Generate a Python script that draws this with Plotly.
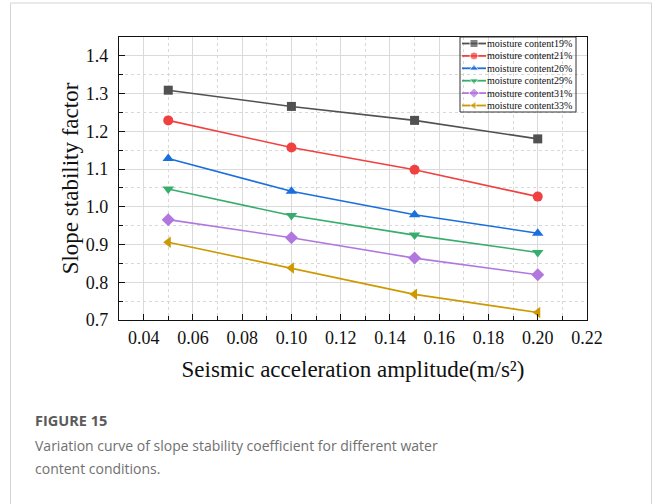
import plotly.graph_objects as go

# ---------------- data ----------------
amplitude = [0.05, 0.10, 0.15, 0.20]
series_names = ["moisture content19%", "moisture content21%", "moisture content26%",
                "moisture content29%", "moisture content31%", "moisture content33%"]
mc19 = [1.309, 1.266, 1.229, 1.180]
mc21 = [1.229, 1.157, 1.098, 1.027]
mc26 = [1.128, 1.041, 0.979, 0.930]
mc29 = [1.047, 0.977, 0.925, 0.879]
mc31 = [0.966, 0.918, 0.864, 0.820]
mc33 = [0.906, 0.838, 0.768, 0.720]
series_values = [mc19, mc21, mc26, mc29, mc31, mc33]

colors = ["#515151", "#F14040", "#1A6FDF", "#37AD6B", "#B177DE", "#CC9900"]
symbols = ["square", "circle", "triangle-up", "triangle-down", "diamond", "triangle-left"]
msizes = [9, 10, 10, 10, 10, 10]

W, H = 654, 504
L, R, T, B = 119, 587, 37, 320   # plot area in pixels


def px(x):
    return (x - L) / (R - L)


def py(y):
    return (B - y) / (B - T)


SERIF = "Liberation Serif"
fig = go.Figure()

for name, vals, c, s, ms in zip(series_names, series_values, colors, symbols, msizes):
    fig.add_trace(go.Scatter(
        x=amplitude, y=vals, name=name, mode="lines+markers",
        line=dict(color=c, width=1.6),
        marker=dict(symbol=s, size=ms, color=c),
        showlegend=False, cliponaxis=False,
    ))

# ---------- custom compact legend (drawn on an auxiliary 0..1 axis) ----------
leg_x0, leg_x1 = 460, 576
leg_y0, leg_y1 = 37, 112
row_h = 12.4
first_row = 43.5
for i, (name, c, s) in enumerate(zip(series_names, colors, symbols)):
    yy = py(first_row + i * row_h)
    fig.add_trace(go.Scatter(
        x=[px(462), px(474), px(486)], y=[yy, yy, yy],
        mode="lines+markers", xaxis="x2", yaxis="y2",
        line=dict(color=c, width=1.8),
        marker=dict(symbol=s, size=[0, 8, 0], color=c),
        showlegend=False, hoverinfo="skip",
    ))
    fig.add_annotation(
        x=px(485), y=yy, xref="paper", yref="paper", text=name,
        showarrow=False, xanchor="left", yanchor="middle",
        font=dict(family=SERIF, size=10, color="#111111"),
    )

shapes = [
    dict(type="rect", xref="paper", yref="paper",
         x0=px(leg_x0), x1=px(leg_x1), y0=py(leg_y1), y1=py(leg_y0),
         line=dict(color="#333333", width=1), fillcolor="rgba(255,255,255,0)", layer="above"),
    # card border
    dict(type="line", xref="paper", yref="paper", x0=px(10.5), x1=px(10.5), y0=py(3), y1=py(520),
         line=dict(color="#d4d4d4", width=1)),
    dict(type="line", xref="paper", yref="paper", x0=px(651.5), x1=px(651.5), y0=py(3), y1=py(520),
         line=dict(color="#d4d4d4", width=1)),
    dict(type="line", xref="paper", yref="paper", x0=px(10.5), x1=px(651.5), y0=py(3), y1=py(3),
         line=dict(color="#d4d4d4", width=1)),
]

# caption
CAP = "Open Sans"
fig.add_annotation(x=px(33), y=py(421), xref="paper", yref="paper", text="<b>FIGURE 15</b>",
                   showarrow=False, xanchor="left", yanchor="middle",
                   font=dict(family=CAP, size=14.5, color="#5a5a5a"))
fig.add_annotation(x=px(33), y=py(445), xref="paper", yref="paper",
                   text="Variation curve of slope stability coefficient for different water",
                   showarrow=False, xanchor="left", yanchor="middle",
                   font=dict(family=CAP, size=14, color="#707070"))
fig.add_annotation(x=px(33), y=py(468), xref="paper", yref="paper",
                   text="content conditions.",
                   showarrow=False, xanchor="left", yanchor="middle",
                   font=dict(family=CAP, size=14, color="#707070"))

axis_common = dict(
    showline=True, linecolor="#111111", linewidth=1.3, mirror=True,
    ticks="inside", ticklen=6, tickwidth=1.2, tickcolor="#111111",
    showgrid=True, gridcolor="#dadada", gridwidth=1,
    tickfont=dict(family=SERIF, size=18, color="#111111"),
    zeroline=False,
)

fig.update_layout(
    width=W, height=H,
    margin=dict(l=L, r=W - R, t=T, b=H - B),
    paper_bgcolor="white", plot_bgcolor="white",
    shapes=shapes,
    xaxis=dict(
        **axis_common,
        range=[0.03, 0.22], tick0=0.04, dtick=0.02, tickformat=".2f",
        minor=dict(dtick=0.01, tick0=0.03, ticks="inside", ticklen=4, tickcolor="#111111",
                   showgrid=True, gridcolor="#d8d8d8", griddash="dot", gridwidth=1),
        title=dict(text="Seismic acceleration amplitude(m/s²)", standoff=14,
                   font=dict(family=SERIF, size=23, color="#111111")),
        ticklabelstandoff=1,
    ),
    yaxis=dict(
        **axis_common,
        range=[0.7, 1.45], tick0=0.7, dtick=0.1, tickformat=".1f",
        minor=dict(dtick=0.05, tick0=0.7, ticks="inside", ticklen=4, tickcolor="#111111",
                   showgrid=True, gridcolor="#d8d8d8", griddash="dot", gridwidth=1),
        title=dict(text="Slope stability factor", standoff=0,
                   font=dict(family=SERIF, size=23, color="#111111")),
        ticklabelstandoff=6,
    ),
    xaxis2=dict(overlaying="x", range=[0, 1], visible=False, fixedrange=True),
    yaxis2=dict(overlaying="y", range=[0, 1], visible=False, fixedrange=True),
)

fig.write_html("out.html")
